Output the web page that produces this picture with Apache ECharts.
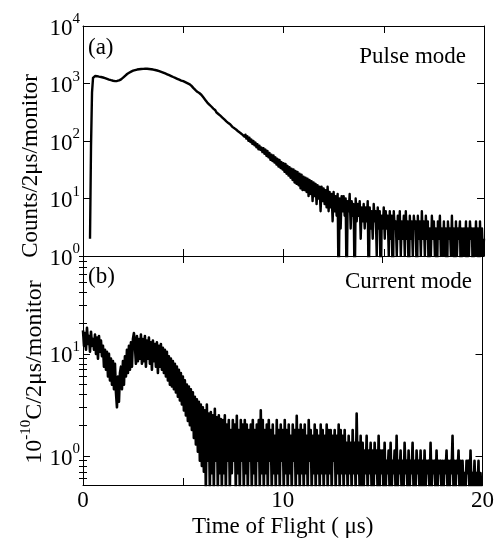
<!DOCTYPE html>
<html><head><meta charset="utf-8">
<script src="https://cdn.jsdelivr.net/npm/echarts@6/dist/echarts.min.js"></script>
<style>html,body{margin:0;padding:0;background:#fff}#c{width:497px;height:543px}</style>
</head><body><div id="c"></div>
<script>
// ---- data ----
const TIME_START = 0;      // μs, first bin
const TIME_STEP = 0.05;    // μs, bin spacing of the arrays below
const X_MIN = 0, X_MAX = 20, X_TICK_STEP = 5;
const xTickLabels = [0, 10, 20];
const topDecades = [0, 1, 2, 3, 4];          // exponents labelled on panel (a)
const bottomDecades = [0, 1];                // exponents labelled on panel (b)
const bottomMinorTicks = [0.6, 0.7, 0.8, 0.9, 2, 3, 4, 5, 6, 7, 8, 9, 20, 30, 40, 50, 60, 70, 80, 90];
const TOP_Y_MIN = 1, TOP_Y_MAX = 10000;
const BOTTOM_Y_MIN = 0.52, BOTTOM_Y_MAX = 91;

// (a) Pulse mode, counts / 2μs / monitor, one value per 0.05 μs from 0 μs
const pulseModeCounts = [
  null,null,null,null,null,null,null,2,80,700,1250,1340,1350,1330,1340,1320,1315,1300,1295,1280,
  1272,1253,1242,1223,1207,1188,1172,1153,1142,1123,1117,1103,1102,1098,1107,1113,1132,1148,1182,1213,
  1262,1308,1362,1408,1462,1498,1542,1578,1612,1638,1672,1688,1712,1728,1748,1752,1768,1772,1788,1787,
  1798,1797,1803,1792,1803,1787,1788,1777,1773,1757,1748,1727,1718,1697,1684,1656,1644,1611,1594,1561,
  1548,1510,1497,1460,1446,1410,1396,1360,1347,1310,1296,1260,1250,1215,1206,1176,1166,1136,1126,1100,
  1098,1062,1058,1022,1018,982,978,942,918,862,838,787,773,727,718,682,683,647,638,592,
  575,536,518,480,466,436,430,401,398,368,366,340,343,316,320,295,300,276,280,256,
  262,238,246,220,231,205,216,193,201,176,188,166,175,157,165,146,154,138,143,129,
  138,119,129,110,121,101,114,96,106,89,100,84,94,78,88,72,83,70,77,64,
  75,60,71,55,67,52,62,47,58,45,56,42,52,39,49,36,47,34,43,32,
  41,29,40,27,37,25,35,23,33,21,32,19,30,18,29,17,27,15,26,14,
  24,14,23,13,22,11,21,12,20,9,19,11,18,8,17,10,16,6,16,9,
  15,8,14,7,16,6,13,7,12,4,13,6,11,5,12,0,10,3,11,6,
  11,5,10,0,9,6,12,3,9,5,8,0,10,4,8,5,9,2,7,4,
  8,3,7,4,9,0,7,3,6,2,8,4,6,1,7,3,6,0,5,3,
  7,2,6,3,5,1,6,2,5,0,6,3,4,1,5,2,6,1,4,2,
  5,1,6,2,4,0,5,2,4,1,5,3,4,0,5,2,4,1,6,2,
  4,1,5,2,4,0,3,1,5,2,4,1,3,0,4,2,5,1,3,1,
  4,1,3,0,4,2,3,1,5,1,3,0,4,1,3,2,4,0,3,1,
  3,1,4,0,3,1,4,2,3,0,3,1,4,1,3,0,4,1,3,1,
  2
];

// (b) Current mode, 10^-10 C / 2μs / monitor, one value per 0.05 μs from 0 μs
const currentModeCharge = [
  17,12,16,11,18,12.5,15,10.5,16.5,12,14,11,15.5,10,14.5,9,15,10.5,13.5,9.5,
  12,7.5,11,7,10.5,6,10,5.5,9,5,8.5,4.5,8,4.2,3.0,6,3.4,6.5,7.5,4.5,
  8.5,5,9.5,6,11,6.5,12,7,13,7.5,14,16,12,8,15,8.5,14,9,15.5,8,
  14,8.5,15,7.5,13.5,9,14.5,8,13,7,13.5,8.5,12.5,7.5,13,6.5,12,7.5,12.5,7,
  11.5,6.5,11,6,10.5,5.5,9.5,5,9,4.8,8.5,4.5,8,4.2,7.5,3.8,7,3.5,6.5,3.2,
  6,2.8,5.5,2.5,5,2.2,4.8,2,4.5,1.8,4.2,1.5,3.8,1.3,3.6,1.1,3.4,0.9,3.2,0.8,
  3.0,0.7,2.8,0.45,3.2,0.9,2.6,0.45,2.7,0.68,2.5,0.45,2.9,0.9,2.4,0.45,2.5,0.68,2.3,0.45,
  2.25,0.68,2.5,0.45,2.03,0.9,2.25,0.45,1.8,0.68,2.25,0.9,2.03,0.45,2.48,0.68,1.8,0.45,2.25,0.9,
  2.03,0.45,2.25,0.68,2.03,0.45,1.8,0.9,2.03,0.45,2.25,0.68,1.8,0.45,2.03,0.9,2.25,0.45,2.8,0.68,
  2.25,0.45,1.8,0.68,2.03,0.45,2.25,0.9,1.8,0.45,2.03,0.68,1.58,0.45,2.25,0.68,1.8,0.45,2.03,0.9,
  1.8,0.45,2.25,0.68,1.8,0.45,2.03,0.68,1.58,0.45,2.03,0.9,1.8,0.45,2.48,0.68,1.8,0.45,2.03,0.68,
  1.8,0.45,2.03,0.68,1.58,0.45,2.25,0.9,1.8,0.45,1.58,0.68,2.03,0.45,1.8,0.68,1.58,0.45,2.03,0.68,
  1.8,0.45,1.58,0.68,2.03,0.45,1.8,0.68,1.8,0.45,1.58,0.9,1.8,0.45,1.58,0.68,2.03,0.45,1.8,0.68,
  1.58,0.45,1.8,0.68,1.35,0.45,1.58,0.68,1.35,0.45,1.8,0.68,1.35,0.45,2.6,0.68,1.35,0.45,1.58,0.45,
  1.35,0.45,1.13,0.68,1.58,0.45,1.13,0.68,1.35,0.45,1.13,0.45,1.35,0.68,1.13,0.45,1.58,0.45,1.13,0.68,
  1.13,0.45,1.35,0.45,0.9,0.68,1.13,0.45,1.35,0.45,0.9,0.68,1.13,0.45,1.58,0.45,0.9,0.68,1.13,0.45,
  0.9,0.45,1.35,0.68,0.9,0.45,1.13,0.45,0.9,0.68,1.35,0.45,0.9,0.45,1.13,0.68,0.9,0.45,1.13,0.45,
  0.9,0.45,1.13,0.45,0.9,0.68,0.9,0.45,1.35,0.45,0.9,0.68,0.9,0.45,1.13,0.45,0.9,0.68,0.9,0.45,
  0.9,0.45,0.9,0.68,1.13,0.45,0.9,0.45,0.9,0.68,1.58,0.45,0.9,0.45,0.9,0.68,1.13,0.45,0.9,0.45,
  0.9,0.45,0.68,0.45,0.9,0.68,0.9,0.45,1.13,0.45,0.68,0.45,0.9,0.45,0.68,0.45,0.9,0.23,0.68,0.45,
  0.45
];

// ---- chart ----
const FONT = '"Liberation Serif", "Times New Roman", serif';
const lg = Math.log10;
const FLOOR = 0.2; // zero counts fall below the plotted range and get clipped
function toSeries(arr) {
  const out = [];
  arr.forEach((v, i) => {
    if (v == null) return;
    out.push([+(TIME_START + i * TIME_STEP).toFixed(2), lg(Math.max(v, FLOOR))]);
  });
  return out;
}
const black = { color: '#000', width: 1 };
const rich = {
  b: { fontFamily: FONT, fontSize: 23, color: '#000', lineHeight: 28, verticalAlign: 'bottom' },
  s: { fontFamily: FONT, fontSize: 15, color: '#000', lineHeight: 15, verticalAlign: 'top' }
};
const powLabel = v => '{b|10}{s|' + Math.round(v) + '}';

function xAxis(grid, pos, withLabels) {
  return {
    type: 'value', gridIndex: grid, position: pos, min: X_MIN, max: X_MAX, interval: X_TICK_STEP,
    axisLine: { show: true, onZero: false, lineStyle: black },
    axisTick: { show: true, inside: true, length: 7, lineStyle: black },
    splitLine: { show: false },
    axisLabel: withLabels ? {
      show: true, customValues: xTickLabels, margin: 4, color: '#000', fontFamily: FONT, fontSize: 23
    } : { show: false }
  };
}
function yMajor(grid, pos, min, max, decades, labels) {
  return {
    type: 'value', gridIndex: grid, position: pos, min: min, max: max,
    axisLine: { show: true, onZero: false, lineStyle: black },
    axisTick: { show: true, inside: true, length: 7, lineStyle: black, customValues: decades },
    splitLine: { show: false },
    axisLabel: labels ? { show: true, customValues: decades, margin: 3, formatter: powLabel, rich: rich } : { show: false }
  };
}
function yMinor(grid, pos, min, max) {
  return {
    type: 'value', gridIndex: grid, position: pos, min: min, max: max,
    axisLine: { show: false },
    axisTick: { show: true, inside: true, length: 4, lineStyle: black, customValues: bottomMinorTicks.map(lg) },
    splitLine: { show: false },
    axisLabel: { show: false }
  };
}

const tMin = lg(TOP_Y_MIN), tMax = lg(TOP_Y_MAX);
const bMin = lg(BOTTOM_Y_MIN), bMax = lg(BOTTOM_Y_MAX);

const chart = echarts.init(document.getElementById('c'), null, { renderer: 'canvas' });
chart.setOption({
  animation: false,
  backgroundColor: '#fff',
  grid: [
    { left: 83, right: 13, top: 26, height: 230 },
    { left: 83, right: 13, top: 256, height: 229 }
  ],
  xAxis: [
    xAxis(0, 'bottom', false),
    xAxis(0, 'top', false),
    Object.assign(xAxis(1, 'bottom', true), {
      name: 'Time of Flight ( μs)', nameLocation: 'middle', nameGap: 30,
      nameTextStyle: { fontFamily: FONT, fontSize: 23, color: '#000' }
    }),
    xAxis(1, 'top', false)
  ],
  yAxis: [
    yMajor(0, 'left', tMin, tMax, topDecades, true),
    yMajor(0, 'right', tMin, tMax, topDecades, false),
    yMajor(1, 'left', bMin, bMax, bottomDecades, true),
    yMinor(1, 'left', bMin, bMax),
    yMajor(1, 'right', bMin, bMax, bottomDecades, false),
    yMinor(1, 'right', bMin, bMax)
  ],
  series: [
    {
      name: 'Pulse mode', type: 'line', xAxisIndex: 0, yAxisIndex: 0,
      data: toSeries(pulseModeCounts), showSymbol: false, clip: true, sampling: 'none',
      lineStyle: { color: '#000', width: 2.4, join: 'round' }
    },
    {
      name: 'Current mode', type: 'line', xAxisIndex: 2, yAxisIndex: 2,
      data: toSeries(currentModeCharge), showSymbol: false, clip: true, sampling: 'none',
      lineStyle: { color: '#000', width: 2.6, join: 'round' }
    }
  ],
  graphic: [
    { type: 'text', x: 88, y: 48, style: { text: '(a)', font: '23px ' + FONT, fill: '#000', align: 'left', verticalAlign: 'middle' } },
    { type: 'text', x: 466, y: 57, style: { text: 'Pulse mode', font: '23px ' + FONT, fill: '#000', align: 'right', verticalAlign: 'middle' } },
    { type: 'text', x: 88, y: 277, style: { text: '(b)', font: '23px ' + FONT, fill: '#000', align: 'left', verticalAlign: 'middle' } },
    { type: 'text', x: 472, y: 282, style: { text: 'Current mode', font: '23px ' + FONT, fill: '#000', align: 'right', verticalAlign: 'middle' } },
    { type: 'text', x: 31, y: 166, rotation: Math.PI / 2,
      style: { text: 'Counts/2μs/monitor', font: '23px ' + FONT, fill: '#000', align: 'center', verticalAlign: 'middle' } },
    { type: 'text', x: 33, y: 372, rotation: Math.PI / 2,
      style: {
        text: '{n|10}{s|-10}{n|C/2μs/monitor}', align: 'center', verticalAlign: 'middle',
        rich: {
          n: { fontFamily: FONT, fontSize: 24, fill: '#000', lineHeight: 28, verticalAlign: 'bottom' },
          s: { fontFamily: FONT, fontSize: 15, fill: '#000', lineHeight: 15, verticalAlign: 'top' }
        }
      } }
  ]
});
</script>
</body></html>
